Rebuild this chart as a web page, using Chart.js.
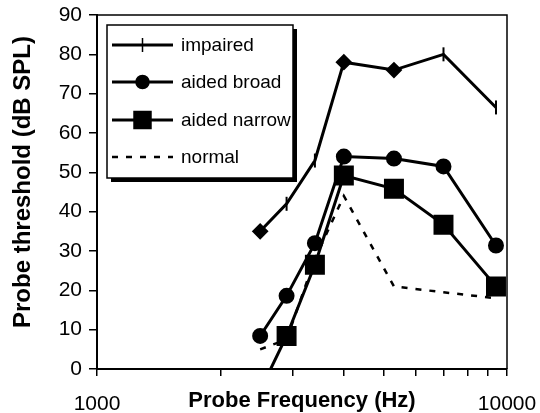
<!DOCTYPE html>
<html>
<head>
<meta charset="utf-8">
<script src="https://cdn.jsdelivr.net/npm/chart.js@4/dist/chart.umd.min.js"></script>
<style>
  html, body { margin: 0; padding: 0; background: #fff; }
  #wrap { width: 540px; height: 413px; }
</style>
</head>
<body>
<div id="wrap"><canvas id="c" width="540" height="413"></canvas></div>
<script>
// probe frequencies (Hz)
const freqs = [2500, 2900, 3400, 4000, 5300, 7000, 9400];
// thresholds (dB SPL)
const impaired = [35, 42, 53, 78, 76, 80, 66.5];
const aidedBroad = [8.4, 18.6, 32, 54, 53.5, 51.5, 31.4];
const aidedNarrow = [-5.5, 8.4, 26.5, 49.2, 45.8, 36.7, 21];
const normal = [5, 7.5, 28, 44, 21, 19.5, 18];
const seriesNames = ['impaired', 'aided broad', 'aided narrow', 'normal'];
const xTickValues = [1000, 2000, 3000, 4000, 5000, 6000, 7000, 8000, 9000, 10000];
const xTickLabels = [1000, 10000];
const yMin = 0, yMax = 90, yStep = 10;

const FONT = "'Liberation Sans', Arial, sans-serif";
const pts = arr => freqs.map((f, i) => ({ x: f, y: arr[i] }));

// impaired: some points are diamonds, the rest vertical ticks
const impStyle = impaired.map((v, i) => (i === 0 || i === 3 || i === 4) ? 'rectRot' : 'line');
const impRot = impStyle.map(s => s === 'line' ? 90 : 0);

// legend box inside the plot with drop shadow, plus frame and axis titles
const boxLegend = {
  id: 'boxLegend',
  afterDraw(chart) {
    const ctx = chart.ctx;
    const a = chart.chartArea;
    ctx.save();
    ctx.strokeStyle = '#000';
    ctx.lineWidth = 1.5;
    ctx.beginPath();
    ctx.moveTo(a.left, a.top);
    ctx.lineTo(a.right, a.top);
    ctx.lineTo(a.right, a.bottom);
    ctx.stroke();

    const bx = 107, by = 25, bw = 186, bh = 153;
    ctx.fillStyle = '#000';
    ctx.fillRect(bx + 4, by + 4, bw, bh);
    ctx.fillStyle = '#fff';
    ctx.fillRect(bx, by, bw, bh);
    ctx.lineWidth = 1.5;
    ctx.strokeRect(bx, by, bw, bh);

    const rows = [45, 82, 120, 157];
    const x0 = 112, x1 = 173, xm = (x0 + x1) / 2;
    chart.data.datasets.forEach((ds, i) => {
      const y = rows[i];
      ctx.save();
      ctx.strokeStyle = '#000';
      ctx.lineWidth = ds.borderWidth;
      ctx.setLineDash(ds.borderDash || []);
      ctx.beginPath();
      ctx.moveTo(x0, y);
      ctx.lineTo(x1, y);
      ctx.stroke();
      ctx.restore();
      if (ds.legendMarker) {
        ctx.fillStyle = '#000';
        ctx.strokeStyle = '#000';
        Chart.helpers.drawPoint(ctx, ds.legendMarker, xm, y);
      }
      ctx.fillStyle = '#000';
      ctx.font = '19px ' + FONT;
      ctx.textBaseline = 'middle';
      ctx.textAlign = 'left';
      ctx.fillText(ds.label, 181, y + 1);
    });

    // x axis title sits on the same line as the tick labels
    ctx.font = 'bold 22px ' + FONT;
    ctx.textAlign = 'center';
    ctx.textBaseline = 'alphabetic';
    ctx.fillText('Probe Frequency (Hz)', (a.left + a.right) / 2, 407);

    // y axis title
    ctx.translate(23, 182);
    ctx.rotate(-Math.PI / 2);
    ctx.font = 'bold 24px ' + FONT;
    ctx.textBaseline = 'middle';
    ctx.fillText('Probe threshold (dB SPL)', 0, 0);
    ctx.restore();
  }
};

new Chart(document.getElementById('c'), {
  type: 'line',
  data: {
    datasets: [{
      label: seriesNames[0],
      data: pts(impaired),
      borderColor: '#000',
      backgroundColor: '#000',
      borderWidth: 3,
      pointStyle: impStyle,
      rotation: impRot,
      pointRadius: 7,
      pointBorderWidth: 2,
      legendMarker: { pointStyle: 'line', rotation: 90, radius: 7, borderWidth: 2 }
    }, {
      label: seriesNames[1],
      data: pts(aidedBroad),
      borderColor: '#000',
      backgroundColor: '#000',
      borderWidth: 3,
      pointStyle: 'circle',
      pointRadius: 6.5,
      legendMarker: { pointStyle: 'circle', radius: 6.5, borderWidth: 1 }
    }, {
      label: seriesNames[2],
      data: pts(aidedNarrow),
      borderColor: '#000',
      backgroundColor: '#000',
      borderWidth: 3,
      pointStyle: 'rect',
      pointRadius: 12,
      legendMarker: { pointStyle: 'rect', radius: 12, borderWidth: 1 }
    }, {
      label: seriesNames[3],
      data: pts(normal),
      borderColor: '#000',
      backgroundColor: '#000',
      borderWidth: 2.5,
      borderDash: [6, 8],
      pointRadius: 0,
      legendMarker: null
    }]
  },
  options: {
    responsive: false,
    animation: false,
    events: [],
    layout: { padding: { top: 13, right: 33, bottom: 0, left: 0 } },
    elements: { line: { tension: 0 } },
    plugins: {
      legend: { display: false },
      tooltip: { enabled: false }
    },
    scales: {
      x: {
        type: 'logarithmic',
        min: 1000,
        max: 10000,
        afterBuildTicks(scale) { scale.ticks = xTickValues.map(v => ({ value: v })); },
        afterFit(scale) {
          scale.height = 44;
          scale.paddingLeft = 0;
          scale.paddingRight = 0;
        },
        border: { display: true, color: '#000', width: 2 },
        grid: { drawOnChartArea: false, color: '#000', lineWidth: 1.5, tickLength: 7 },
        ticks: {
          autoSkip: false,
          maxRotation: 0,
          color: '#000',
          font: { family: FONT, size: 21 },
          padding: 16,
          callback: v => xTickLabels.includes(v) ? String(v) : ''
        }
      },
      y: {
        min: yMin,
        max: yMax,
        afterFit(scale) {
          scale.width = 97;
          scale.paddingTop = 0;
          scale.paddingBottom = 0;
        },
        border: { display: true, color: '#000', width: 2 },
        grid: { drawOnChartArea: false, color: '#000', lineWidth: 1.5, tickLength: 8 },
        ticks: {
          stepSize: yStep,
          color: '#000',
          font: { family: FONT, size: 21 },
          padding: 7
        }
      }
    }
  },
  plugins: [boxLegend]
});
</script>
</body>
</html>
